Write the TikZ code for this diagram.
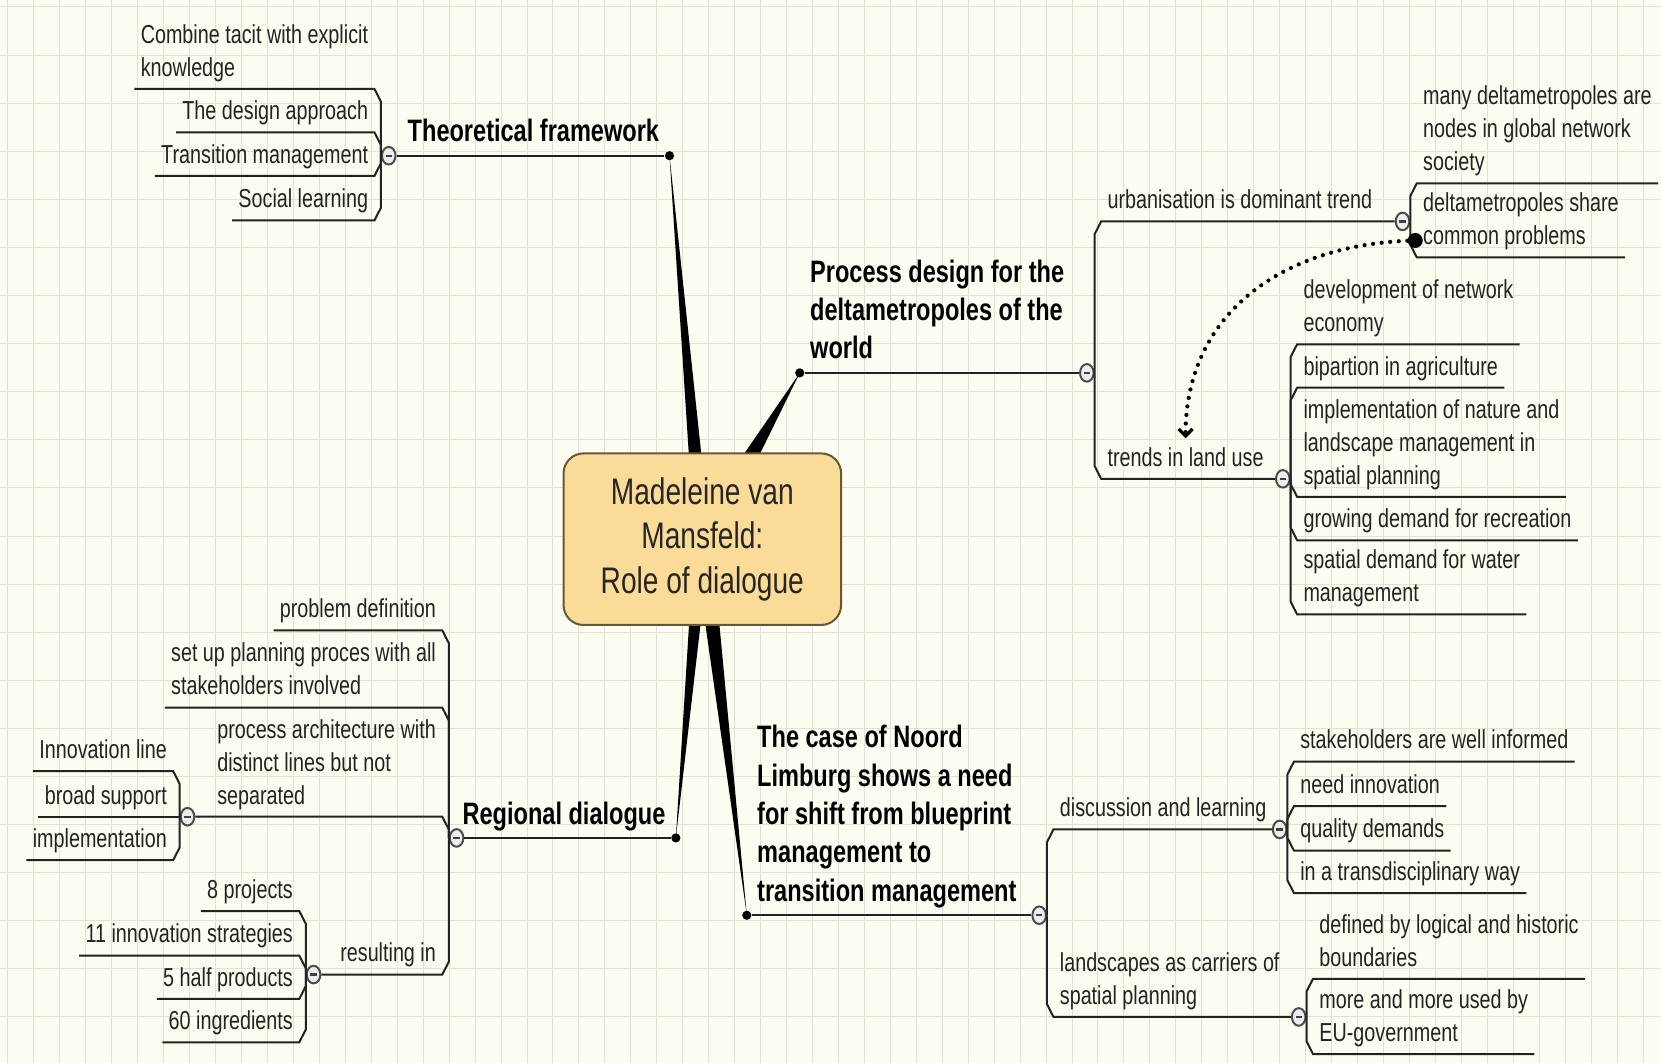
\documentclass[tikz,border=0pt]{standalone}
\usepackage{fontspec}
\setmainfont{Liberation Sans}[FakeStretch=0.76]
\usepackage{tikz}
\usetikzlibrary{arrows.meta,backgrounds,calc,positioning,shapes.geometric}

\definecolor{paper}{RGB}{252,252,241}
\definecolor{gridcol}{RGB}{226,226,211}
\definecolor{rootfill}{RGB}{250,220,152}
\definecolor{rootline}{RGB}{100,88,60}
\definecolor{inkcol}{RGB}{35,35,35}

\newcommand{\mapleaffont}{\fontsize{13}{16.5}\selectfont}
\newcommand{\mapbranchfont}{\fontsize{15.5}{19.2}\selectfont\bfseries}
\newcommand{\maprootfont}{\fontsize{18.5}{22.3}\selectfont}

\tikzset{
  leaf/.style={font=\mapleaffont, text=inkcol, inner xsep=3pt, inner ysep=1.2pt, execute at end node=\strut},
  branch/.style={font=\mapbranchfont, text=black, inner xsep=4pt, inner ysep=1pt, execute at end node=\strut},
  root/.style={font=\maprootfont, text=black!85, align=center, draw=rootline, fill=rootfill, line width=1pt,
    rounded corners=10pt, minimum width=138.8pt, minimum height=85.8pt},
  fold/.style={ellipse, draw=black!70, fill=white!93!black, line width=1pt, minimum width=6.8pt,
    minimum height=8.8pt, inner sep=0pt,
    path picture={\draw[black!75, line width=1.2pt] ([xshift=-1.6pt]path picture bounding box.center)
      -- ([xshift=1.6pt]path picture bounding box.center);}},
  knot/.style={circle, fill=black, inner sep=0pt, minimum size=4.6pt},
  twig/.style={draw=inkcol, line width=1pt},
  twigup/.style={to path={-- ($(\tikztostart |- \tikztotarget)+(0,12)$) -- (\tikztotarget)}},
  twigdown/.style={to path={-- ($(\tikztostart |- \tikztotarget)+(0,-12)$) -- (\tikztotarget)}},
  wedge/.style={fill=black},
  gridline/.style={draw=gridcol, line width=0.5pt},
  linkarrow/.style={line width=2.1pt, dash pattern=on 0pt off 4.3pt, line cap=round, shorten >=1pt,
    -{Straight Barb[length=3.5pt,width=7pt,line width=1.6pt]}}
}

\begin{document}
\begin{tikzpicture}[x=0.5297pt, y=-0.5297pt]
\useasboundingbox (0,0) rectangle (1568,1003);
\begin{scope}[on background layer]
\fill[fill=paper] (0,0) rectangle (1568,1003);
\foreach \gx in {7.5,32,...,1568} \draw[gridline] (\gx,0) -- (\gx,1003);
\foreach \gy in {6.6,52,...,1003} \draw[gridline] (0,\gy) -- (1568,\gy);
\end{scope}

% centre
\node[root] (ctr) at (663,509) {Madeleine van\\Mansfeld:\\Role of dialogue};

\node[knot] (tfD) at (632,147) {};
\node[knot] (pdD) at (755,352) {};
\node[knot] (rdD) at (638,791) {};
\node[knot] (nlD) at (705,864) {};

\begin{scope}[on background layer]
\fill[wedge] (tfD.center) -- ($(ctr.center)!4pt!90:(tfD.center)$) -- ($(ctr.center)!4pt!-90:(tfD.center)$) -- cycle;
\fill[wedge] (pdD.center) -- ($(ctr.center)!7pt!90:(pdD.center)$) -- ($(ctr.center)!7pt!-90:(pdD.center)$) -- cycle;
\fill[wedge] (rdD.center) -- ($(ctr.center)!4pt!90:(rdD.center)$) -- ($(ctr.center)!4pt!-90:(rdD.center)$) -- cycle;
\fill[wedge] (nlD.center) -- ($(ctr.center)!4.5pt!90:(nlD.center)$) -- ($(ctr.center)!4.5pt!-90:(nlD.center)$) -- cycle;
\end{scope}

\node[branch, above left=0pt and 1pt of tfD.center] (tf) {Theoretical framework};
\node[branch, align=left, above right=0pt and 1pt of pdD.center] (pd) {Process design for the\\deltametropoles of the\\world};
\node[branch, above left=0pt and 1pt of rdD.center] (rd) {Regional dialogue};
\node[branch, align=left, above right=0pt and 1pt of nlD.center] (nl) {The case of Noord\\Limburg shows a need\\for shift from blueprint\\management to\\transition management};

% Theoretical framework
\node[fold] (tfC) at (367,147) {};
\draw[twig] (tfD) -- (tfC);
\node[leaf, align=left, anchor=south east] (tf1) at (353.5,84) {Combine tacit with explicit\\knowledge};
\node[leaf, anchor=south east] (tf2) at (353.5,125) {The design approach};
\node[leaf, anchor=south east] (tf3) at (353.5,166) {Transition management};
\node[leaf, anchor=south east] (tf4) at (353.5,208) {Social learning};
\draw[twig] (tfC.west) to[twigup] (tf1.south east) -- (tf1.south west);
\draw[twig] (tfC.west) to[twigup] (tf2.south east) -- (tf2.south west);
\draw[twig] (tfC.west) to[twigdown] (tf3.south east) -- (tf3.south west);
\draw[twig] (tfC.west) to[twigdown] (tf4.south east) -- (tf4.south west);

% Process design
\node[fold] (pdC) at (1026,352) {};
\draw[twig] (pdD) -- (pdC);
\node[leaf, anchor=south west] (urb) at (1039.5,209) {urbanisation is dominant trend};
\node[fold] (urbC) at (1324,209) {};
\node[leaf, anchor=south west] (tlu) at (1039.5,452) {trends in land use};
\node[fold] (tluC) at (1211,452) {};
\draw[twig] (pdC.east) to[twigup] (urb.south west) -- (urbC.west);
\draw[twig] (pdC.east) to[twigdown] (tlu.south west) -- (tluC.west);

\node[leaf, align=left, anchor=south west] (ur1) at (1337.5,173) {many deltametropoles are\\nodes in global network\\society};
\node[leaf, align=left, anchor=south west] (ur2) at (1337.5,243) {deltametropoles share\\common problems};
\draw[twig] (urbC.east) to[twigup] (ur1.south west) -- (ur1.south east);
\draw[twig] (urbC.east) to[twigdown] (ur2.south west) -- (ur2.south east);

\node[leaf, align=left, anchor=south west] (tl1) at (1224.5,325) {development of network\\economy};
\node[leaf, anchor=south west] (tl2) at (1224.5,366) {bipartion in agriculture};
\node[leaf, align=left, anchor=south west] (tl3) at (1224.5,469) {implementation of nature and\\landscape management in\\spatial planning};
\node[leaf, anchor=south west] (tl4) at (1224.5,510) {growing demand for recreation};
\node[leaf, align=left, anchor=south west] (tl5) at (1224.5,580) {spatial demand for water\\management};
\draw[twig] (tluC.east) to[twigup] (tl1.south west) -- (tl1.south east);
\draw[twig] (tluC.east) to[twigup] (tl2.south west) -- (tl2.south east);
\draw[twig] (tluC.east) to[twigdown] (tl3.south west) -- (tl3.south east);
\draw[twig] (tluC.east) to[twigdown] (tl4.south west) -- (tl4.south east);
\draw[twig] (tluC.east) to[twigdown] (tl5.south west) -- (tl5.south east);

\node[knot, minimum size=7.5pt] (bigD) at (1336,227) {};
\draw[linkarrow] (bigD) .. controls +(-125,5) and +(0,-120) .. (tlu.north);

% Regional dialogue
\node[fold] (rdC) at (431,791) {};
\draw[twig] (rdD) -- (rdC);
\node[leaf, anchor=south east] (rd1) at (417.5,595) {problem definition};
\node[leaf, align=left, anchor=south east] (rd2) at (417.5,668) {set up planning proces with all\\stakeholders involved};
\node[leaf, align=left, anchor=south east] (rd3) at (417.5,771) {process architecture with\\distinct lines but not\\separated};
\node[leaf, anchor=south east] (ri) at (417.5,920) {resulting in};
\node[fold] (paC) at (177,771) {};
\node[fold] (riC) at (296,920) {};
\draw[twig] (rdC.west) to[twigup] (rd1.south east) -- (rd1.south west);
\draw[twig] (rdC.west) to[twigup] (rd2.south east) -- (rd2.south west);
\draw[twig] (rdC.west) to[twigup] (rd3.south east) -- (paC.east);
\draw[twig] (rdC.west) to[twigdown] (ri.south east) -- (riC.east);

\node[leaf, anchor=south east] (pa1) at (163.5,728) {Innovation line};
\node[leaf, anchor=south east] (pa2) at (163.5,771) {broad support};
\node[leaf, anchor=south east] (pa3) at (163.5,812) {implementation};
\draw[twig] (paC.west) to[twigup] (pa1.south east) -- (pa1.south west);
\draw[twig] (paC.west) -- (pa2.south east) -- (pa2.south west);
\draw[twig] (paC.west) to[twigdown] (pa3.south east) -- (pa3.south west);

\node[leaf, anchor=south east] (ri1) at (282.5,860) {8 projects};
\node[leaf, anchor=south east] (ri2) at (282.5,902) {11 innovation strategies};
\node[leaf, anchor=south east] (ri3) at (282.5,943) {5 half products};
\node[leaf, anchor=south east] (ri4) at (282.5,984) {60 ingredients};
\draw[twig] (riC.west) to[twigup] (ri1.south east) -- (ri1.south west);
\draw[twig] (riC.west) to[twigup] (ri2.south east) -- (ri2.south west);
\draw[twig] (riC.west) to[twigdown] (ri3.south east) -- (ri3.south west);
\draw[twig] (riC.west) to[twigdown] (ri4.south east) -- (ri4.south west);

% Noord Limburg
\node[fold] (nlC) at (981,864) {};
\draw[twig] (nlD) -- (nlC);
\node[leaf, anchor=south west] (dl) at (994.5,783) {discussion and learning};
\node[fold] (dlC) at (1208,783) {};
\node[leaf, align=left, anchor=south west] (ls) at (994.5,960) {landscapes as carriers of\\spatial planning};
\node[fold] (lsC) at (1226,960) {};
\draw[twig] (nlC.east) to[twigup] (dl.south west) -- (dlC.west);
\draw[twig] (nlC.east) to[twigdown] (ls.south west) -- (lsC.west);

\node[leaf, anchor=south west] (dl1) at (1221.5,719) {stakeholders are well informed};
\node[leaf, anchor=south west] (dl2) at (1221.5,761) {need innovation};
\node[leaf, anchor=south west] (dl3) at (1221.5,803) {quality demands};
\node[leaf, anchor=south west] (dl4) at (1221.5,843) {in a transdisciplinary way};
\draw[twig] (dlC.east) to[twigup] (dl1.south west) -- (dl1.south east);
\draw[twig] (dlC.east) to[twigup] (dl2.south west) -- (dl2.south east);
\draw[twig] (dlC.east) to[twigdown] (dl3.south west) -- (dl3.south east);
\draw[twig] (dlC.east) to[twigdown] (dl4.south west) -- (dl4.south east);

\node[leaf, align=left, anchor=south west] (ls1) at (1239.5,924) {defined by logical and historic\\boundaries};
\node[leaf, align=left, anchor=south west] (ls2) at (1239.5,995) {more and more used by\\EU-government};
\draw[twig] (lsC.east) to[twigup] (ls1.south west) -- (ls1.south east);
\draw[twig] (lsC.east) to[twigdown] (ls2.south west) -- (ls2.south east);
\end{tikzpicture}
\end{document}
